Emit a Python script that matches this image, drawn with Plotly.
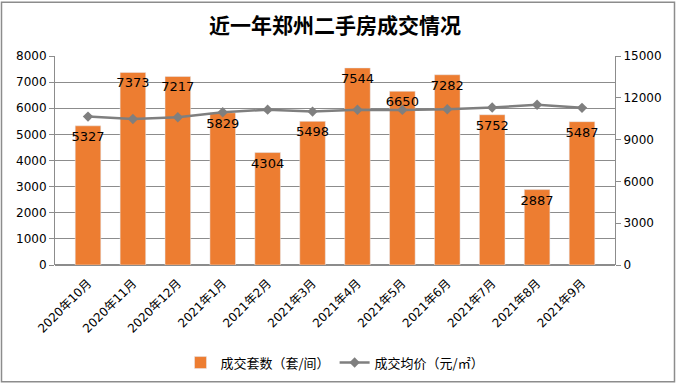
import plotly.graph_objects as go

months = ["2020年10月", "2020年11月", "2020年12月", "2021年1月", "2021年2月", "2021年3月",
          "2021年4月", "2021年5月", "2021年6月", "2021年7月", "2021年8月", "2021年9月"]
deals = [5327, 7373, 7217, 5829, 4304, 5498, 7544, 6650, 7282, 5752, 2887, 5487]
avg_price = [10650, 10480, 10600, 10960, 11150, 11010, 11140, 11130, 11180, 11300, 11500, 11280]

W, H = 677, 389
ml, mr, mt, mb = 55, 62, 56, 121
pw, ph = W - ml - mr, H - mt - mb

fig = go.Figure()
fig.add_trace(go.Bar(
    x=months, y=deals, name="成交套数（套/间）",
    marker=dict(color="#ED7D31"),
    text=[str(v) for v in deals], textposition="inside", insidetextanchor="end",
    textangle=0,
    textfont=dict(color="black", size=13, family="DejaVu Sans"),
    cliponaxis=False,
))
fig.add_trace(go.Scatter(
    x=months, y=avg_price, name="成交均价（元/㎡）", yaxis="y2",
    mode="lines+markers",
    line=dict(color="#7F7F7F", width=2.5),
    marker=dict(symbol="diamond", size=8, color="#7F7F7F"),
))

fig.update_layout(
    width=W, height=H,
    margin=dict(l=ml, r=mr, t=mt, b=mb),
    paper_bgcolor="white", plot_bgcolor="white",
    bargap=0.43,
    uniformtext=dict(minsize=13, mode="show"),
    title=dict(text="<b>近一年郑州二手房成交情况</b>", x=0.5, xref="paper", xanchor="center",
               y=1 - 26 / H, yanchor="middle",
               font=dict(family="Noto Sans CJK SC", size=21, color="black")),
    font=dict(family="DejaVu Sans, Noto Sans CJK SC", size=11, color="black"),
    xaxis=dict(tickangle=-45, showline=False, ticks="", ticklabelstandoff=8,
               tickfont=dict(family="DejaVu Sans, Noto Sans CJK SC", size=12)),
    yaxis=dict(range=[0, 8000], dtick=1000, showgrid=True, gridcolor="#8C8C8C", gridwidth=1,
               showline=True, linecolor="#8C8C8C", ticks="outside", ticklen=5, tickcolor="#8C8C8C",
               zeroline=True, zerolinecolor="#8C8C8C",
               tickfont=dict(size=12)),
    yaxis2=dict(range=[0, 15000], dtick=3000, tickformat="d", overlaying="y", side="right", showgrid=False,
                showline=True, linecolor="#8C8C8C", ticks="outside", ticklen=5, tickcolor="#8C8C8C",
                zeroline=False, tickfont=dict(size=12)),
    legend=dict(orientation="h", x=0.5, xanchor="center", y=-(367 - mt - ph) / ph, yanchor="middle",
                font=dict(family="Noto Sans CJK SC", size=13), itemwidth=30),
    shapes=[dict(type="rect", xref="paper", yref="paper",
                 x0=-(ml - 1.5) / pw, x1=1 + (mr - 2.5) / pw,
                 y0=-(mb - 2.5) / ph, y1=1 + (mt - 1.5) / ph,
                 line=dict(color="#8C8C8C", width=1.5))],
)

fig.write_html("out.html", config={"displayModeBar": False},
               post_script="document.body.style.margin='0';document.body.style.padding='0';")
